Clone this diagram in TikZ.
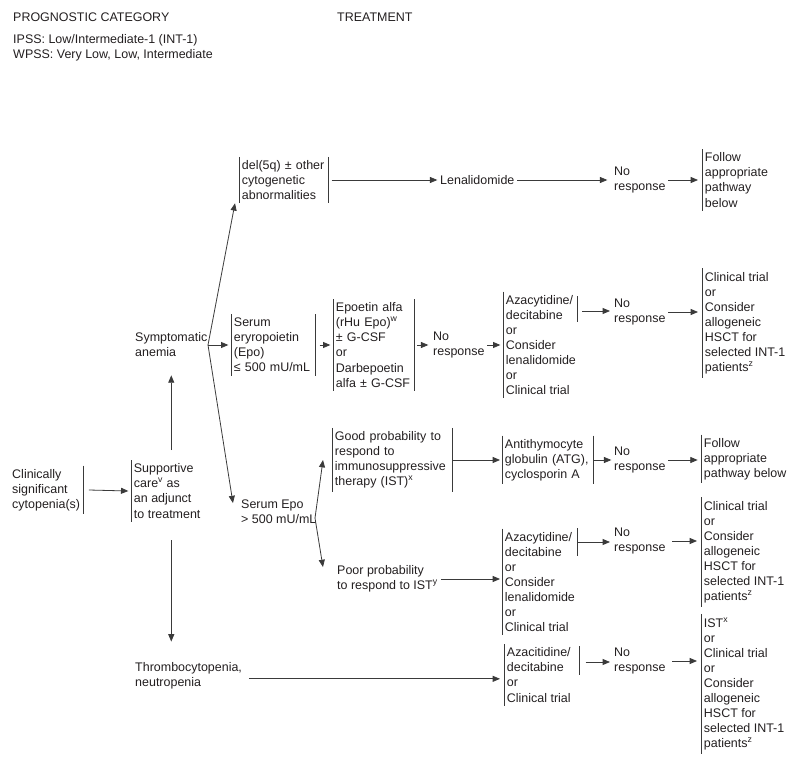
\documentclass[tikz,border=0pt]{standalone}
\usepackage{fontspec}
\setmainfont{Liberation Sans}
\usepackage{tikz}
\usetikzlibrary{arrows.meta}
\definecolor{ink}{HTML}{231F20}
\definecolor{rule}{HTML}{3A3A3A}
\newcommand{\fs}{\fontsize{9.35pt}{11.3pt}\selectfont}

\begin{document}
\begin{tikzpicture}[
    x=0.75pt, y=-0.75pt,
    txt/.style={anchor=west, align=left, inner xsep=2pt, inner ysep=2.5pt,
                font=\fs, text=ink},
    bar/.style={draw=rule, line width=0.6pt},
    lb/.style={append after command={(\tikzlastnode.north west) edge[bar] (\tikzlastnode.south west)}},
    rb/.style={append after command={(\tikzlastnode.north east) edge[bar] (\tikzlastnode.south east)}},
    arr/.style={-{Triangle[length=5.5pt, width=4.5pt]}, line width=0.6pt, draw=rule}]
  \useasboundingbox (0,0) rectangle (800,763);

  \node[txt] (hdrcat)   at (10.3,17)  {PROGNOSTIC CATEGORY};
  \node[txt] (hdrtrt)   at (334.3,17) {TREATMENT};
  \node[txt] (hdrscore) at (10.3,48)  {IPSS: Low/Intermediate-1 (INT-1)\\WPSS: Very Low, Low, Intermediate};

  \node[txt, rb, text width=51.3pt] (cyto) at (9.3,490) {Clinically\\significant\\cytopenia(s)};
  \node[txt, lb] (supp) at (131,491) {Supportive\\care\textsuperscript{v} as\\an adjunct\\to treatment};
  \node[txt] (sym) at (132.3,345)   {Symptomatic\\anemia};
  \node[txt] (thr) at (132.3,675.5) {Thrombocytopenia,\\neutropenia};

  \node[txt, lb, rb, text width=63pt] (del) at (239,180) {del(5q) ± other\\cytogenetic\\abnormalities};
  \node[txt] (len)  at (437.3,180) {Lenalidomide};
  \node[txt] (nr1)  at (611.3,180) {No\\response};
  \node[txt, lb] (fol1) at (702,180) {Follow\\appropriate\\pathway\\below};

  \node[txt, lb, rb, text width=59pt] (epolo) at (231,345) {Serum\\eryropoietin\\(Epo)\\≤ 500 mU/mL};
  \node[txt, lb, rb, text width=56.75pt] (epo) at (333,345) {Epoetin alfa\\(rHu Epo)\textsuperscript{w}\\± G-CSF\\or\\Darbepoetin\\alfa ± G-CSF};
  \node[txt] (nr2) at (430.3,345) {No\\response};
  \node[txt, lb] (aza1) at (503,345) {Azacytidine/\\decitabine\\or\\Consider\\lenalidomide\\or\\Clinical trial};
  \node[txt] (nr3) at (611.3,312) {No\\response};
  \node[txt, lb] (ct1) at (702,323) {Clinical trial\\or\\Consider\\allogeneic\\HSCT for\\selected INT-1\\patients\textsuperscript{z}};

  \node[txt] (epohi) at (238.3,512) {Serum Epo\\> 500 mU/mL};
  \node[txt, lb, rb, text width=86pt] (good) at (332,460) {Good probability to\\respond to\\immunosuppressive\\therapy (IST)\textsuperscript{x}};
  \node[txt, lb, rb, text width=64.25pt] (atg) at (502,460) {Antithymocyte\\globulin (ATG),\\cyclosporin A};
  \node[txt] (nr4) at (611.3,460) {No\\response};
  \node[txt, lb] (fol2) at (701,459) {Follow\\appropriate\\pathway below};

  \node[txt] (poor) at (334.3,579) {Poor probability\\to respond to IST\textsuperscript{y}};
  \node[txt, lb] (aza2) at (502,582) {Azacytidine/\\decitabine\\or\\Consider\\lenalidomide\\or\\Clinical trial};
  \node[txt] (nr5) at (611.3,541) {No\\response};
  \node[txt, lb] (ct2) at (701,552) {Clinical trial\\or\\Consider\\allogeneic\\HSCT for\\selected INT-1\\patients\textsuperscript{z}};

  \node[txt, lb] (aza3) at (504,675) {Azacitidine/\\decitabine\\or\\Clinical trial};
  \node[txt] (nr6) at (611.3,661) {No\\response};
  \node[txt, lb] (ct3) at (701,684) {IST\textsuperscript{x}\\or\\Clinical trial\\or\\Consider\\allogeneic\\HSCT for\\selected INT-1\\patients\textsuperscript{z}};

  \coordinate (symj)  at (208,345);
  \coordinate (hij)   at (315,518);
  \coordinate (aza1r) at (577,311);
  \coordinate (aza2r) at (577,542);
  \coordinate (aza3r) at (579,662);
  \draw[bar] (577,296) -- (577,322);
  \draw[bar] (577,528) -- (577,556);
  \draw[bar] (579,646) -- (579,675);

  \draw[arr] ([xshift=4pt]cyto.east) -- ([xshift=-2pt]supp.west);
  \draw[arr] ([yshift=7.5pt]supp.north -| sym.south) -- ([yshift=-11pt]sym.south);
  \draw[arr] ([yshift=-14pt]supp.south -| sym.south) -- ([yshift=12.75pt]thr.north -| sym.south);
  \draw[arr] ([xshift=3pt, yshift=-2.5pt]thr.east) -- ([xshift=-3pt, yshift=-2.5pt]thr.east -| aza3.west);

  \draw[arr] (symj) -- ([xshift=-3pt]del.south west);
  \draw[arr] (symj) -- ([xshift=-4pt, yshift=-5pt]epohi.north west);
  \draw[arr] (symj) -- ([xshift=-2pt]epolo.west);

  \draw[arr] ([xshift=2pt]del.east) -- (len.west);
  \draw[arr] (len.east) -- ([xshift=-3pt]nr1.west);
  \draw[arr] (nr1.east) -- ([xshift=-3pt]fol1.west);

  \draw[arr] ([xshift=3pt]epolo.east) -- ([xshift=-2pt]epo.west);
  \draw[arr] ([xshift=2pt]epo.east) -- ([xshift=-1.5pt]nr2.west);
  \draw[arr] (nr2.east) -- ([xshift=-2pt]aza1.west);
  \draw[arr] ([xshift=4pt]aza1r) -- ([xshift=-1pt]aza1r -| nr3.west);
  \draw[arr] (nr3.east) -- ([xshift=-3pt]nr3.east -| ct1.west);

  \draw[arr] (hij) -- ([xshift=-6.75pt]good.west);
  \draw[arr] (hij) -- ([xshift=-8.5pt, yshift=-3.75pt]poor.north west);
  \draw[arr] (good.east) -- ([xshift=-1.5pt]atg.west);
  \draw[arr] (atg.east) -- (nr4.west);
  \draw[arr] (nr4.east) -- ([xshift=-2.5pt]nr4.east -| fol2.west);

  \draw[arr] (poor.east) -- ([xshift=-1.5pt]poor.east -| aza2.west);
  \draw[arr] (aza2r) -- ([xshift=-1pt]aza2r -| nr5.west);
  \draw[arr] ([xshift=3pt]nr5.east) -- ([xshift=-3pt]nr5.east -| ct2.west);

  \draw[arr] ([xshift=5pt]aza3r) -- ([xshift=-1pt]aza3r -| nr6.west);
  \draw[arr] ([xshift=3pt]nr6.east) -- ([xshift=-3pt]nr6.east -| ct3.west);
\end{tikzpicture}
\end{document}
